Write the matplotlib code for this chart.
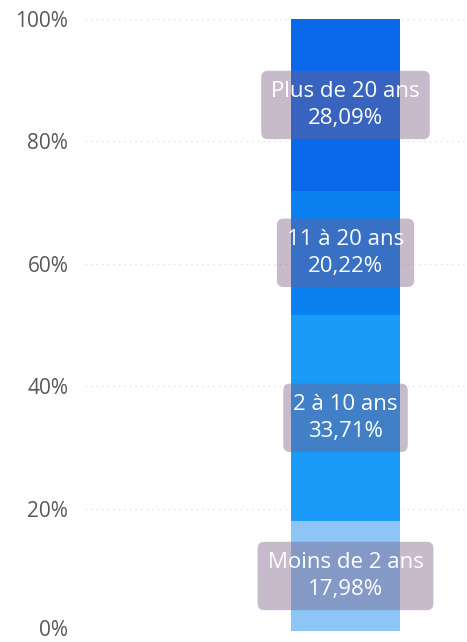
import matplotlib
matplotlib.use("Agg")
import matplotlib.pyplot as plt
import matplotlib.transforms as mtrans
from matplotlib.ticker import FuncFormatter

categories = ["Moins de 2 ans", "2 à 10 ans", "11 à 20 ans", "Plus de 20 ans"]
values = [17.98, 33.71, 20.22, 28.09]
colors = ["#8DC6F6", "#1A9BF7", "#0B80F0", "#0A69EA"]
yticks = [0, 20, 40, 60, 80, 100]

plt.rcParams['font.family'] = ['Open Sans', 'DejaVu Sans']

fig = plt.figure(figsize=(4.67, 6.42), dpi=100)
ax = fig.add_axes([85/467, 1-631/642, 1-85/467, (631-19)/642])

width = 0.8
bottom = 0
for cat, v, c in zip(categories, values, colors):
    ax.bar(0, v, width=width, bottom=bottom, color=c, zorder=2)
    lab = f"{cat}\n{v:.2f}%".replace(".", ",")
    ax.text(0, bottom + v/2, lab, ha="center", va="center", color="white",
            fontsize=16, linespacing=1.4, zorder=4,
            bbox=dict(boxstyle="round,pad=0.45,rounding_size=0.3",
                      facecolor=(0.47, 0.36, 0.52, 0.42), edgecolor="none"))
    bottom += v

ppu = 109/width
ax.set_xlim(-(345.5-85)/ppu, (467-345.5)/ppu)
ax.set_ylim(0, 100)
ax.set_yticks(yticks)
ax.yaxis.set_major_formatter(FuncFormatter(lambda v, p: f"{int(v)}%"))
ax.tick_params(axis="y", length=0, pad=12, labelsize=15, labelcolor="#5A5856")
ax.set_xticks([])
for s in ax.spines.values():
    s.set_visible(False)
ax.yaxis.grid(True, color="#e2e2e2", linestyle=(0, (1, 3)), linewidth=1, zorder=0)
ax.set_axisbelow(True)

# keep the bottom tick label inside the canvas
fig.canvas.draw()
lbl0 = ax.yaxis.get_major_ticks()[0].label1
lbl0.set_transform(lbl0.get_transform() + mtrans.ScaledTranslation(0, 3/100, fig.dpi_scale_trans))

fig.savefig("out.png", dpi=100)
